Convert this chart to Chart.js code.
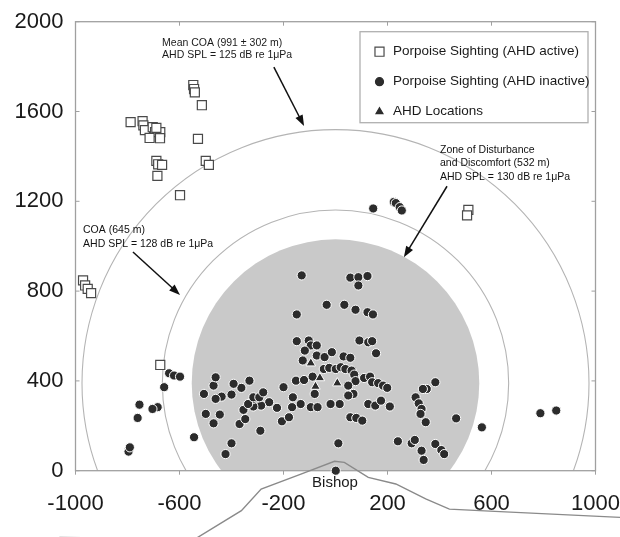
<!DOCTYPE html>
<html><head><meta charset="utf-8">
<script src="https://cdn.jsdelivr.net/npm/chart.js@4.4.0/dist/chart.umd.min.js"></script>
<style>html,body{margin:0;padding:0;background:#fff;}canvas{display:block;}</style>
</head><body>
<canvas id="c" width="620" height="537"></canvas>
<script>
// ---- data ----
const xTickValues = [-1000, -600, -200, 200, 600, 1000];
const yTickValues = [0, 400, 800, 1200, 1600, 2000];

const activeX = [-788,-742,-739,-733,-703,-694,-715,-674,-675,-689,-547,-544,-541,-514,-529,-689,-682,-667,-685,-598,-499,-487,511,506,-971,-963,-953,-940,-674];
const activeY = [1553,1557,1538,1517,1530,1508,1482,1508,1481,1527,1718,1700,1685,1628,1478,1380,1365,1362,1313,1227,1380,1362,1162,1137,848,825,810,791,471];

const inactiveX = [145,224,232,247,255,
 -130,57,88,123,88,-34,34,77,123,144,-149,
 -149,-103,-95,-72,-118,-126,-72,-42,-14,31,57,92,126,141,156,
 -152,-121,-88,-80,-95,-69,-164,-134,-167,-200,-225,-206,-179,
 -255,-286,-316,-316,-331,-362,-392,-400,-438,-461,-469,-461,-506,-499,-469,-445,
 -369,-347,-354,-336,-316,-293,-278,-289,-400,-423,-544,
 -640,-621,-598,-659,-684,-704,-754,-761,-796,-791,
 -45,-24,1,20,38,62,72,77,110,133,141,164,183,199,49,69,49,16,-19,126,153,175,209,57,80,103,11,1,
 240,293,305,331,339,384,407,418,308,320,331,327,347,351,336,384,464,563,788,849];
const inactiveY = [1168,1197,1192,1174,1159,
 870,860,862,867,825,739,739,717,706,696,696,
 577,580,558,558,535,491,513,506,528,509,503,580,572,577,523,
 401,404,419,342,283,283,327,297,283,372,280,220,238,
 305,290,286,320,401,369,387,339,330,320,379,416,342,253,211,250,
 208,230,271,297,327,327,349,178,122,74,149,
 434,424,419,372,283,275,294,235,85,104,
 453,458,453,461,453,446,428,399,413,419,394,390,379,369,379,342,335,297,297,297,290,312,286,238,235,223,122,0,
 131,122,137,89,48,119,92,74,327,300,275,253,216,364,364,394,233,193,256,268];

const ahdX = [-95,-60,-77,7];
const ahdY = [479,413,375,390];

// coastline below the axis (Bishop)
const coastX = [-1062,-758,-537,-362,-286,-133,-4,34,126,232,347,438,613,1097];
const coastY = [-297,-302,-302,-178,-82,-15,42,37,-30,-59,-126,-171,-181,-208];

// zones centred on the AHD array
const zoneCenter = [0, 390];
const discRadius = 553;      // zone of disturbance and discomfort
const ringRadii = [666, 975]; // COA, mean COA

const seriesLabels = ['Porpoise Sighting (AHD active)','Porpoise Sighting (AHD inactive)','AHD Locations'];

const annotations = [
  {lines:['Mean COA (991 \u00b1 302 m)','AHD SPL = 125 dB re 1\u03bcPa'], x:-667, y:[1904,1852], arrow:[-237,1798,-121,1535]},
  {lines:['Zone of Disturbance','and Discomfort (532 m)','AHD SPL = 130 dB re 1\u03bcPa'], x:402, y:[1428,1370,1307], arrow:[429,1267,263,951]},
  {lines:['COA (645 m)','AHD SPL = 128 dB re 1\u03bcPa'], x:-971, y:[1071,1009], arrow:[-779,974,-598,783]}
];
const placeLabel = {text:'Bishop', x:-2, y:-55};

const pts = (xs, ys) => xs.map((v,i)=>({x:v, y:ys[i]}));

const zonesPlugin = {
  id:'zones',
  beforeDatasetsDraw(chart){
    const {ctx, chartArea:a, scales:{x,y}} = chart;
    ctx.save();
    ctx.beginPath(); ctx.rect(a.left,a.top,a.right-a.left,a.bottom-a.top); ctx.clip();
    const cx = x.getPixelForValue(zoneCenter[0]), cy = y.getPixelForValue(zoneCenter[1]);
    const k = (x.getPixelForValue(1000)-x.getPixelForValue(0))/1000;
    ctx.fillStyle = '#c9c9c9';
    ctx.beginPath(); ctx.arc(cx,cy,discRadius*k,0,Math.PI*2); ctx.fill();
    ctx.strokeStyle = '#b4b4b4'; ctx.lineWidth = 1.1;
    ringRadii.forEach(r=>{ctx.beginPath(); ctx.arc(cx,cy,r*k,0,Math.PI*2); ctx.stroke();});
    ctx.restore();
    // frame
    ctx.save();
    ctx.strokeStyle = '#a0a0a0'; ctx.lineWidth = 1.3;
    ctx.strokeRect(a.left,a.top,a.right-a.left,a.bottom-a.top);
    ctx.lineWidth = 1;
    xTickValues.forEach(v=>{const px=x.getPixelForValue(v);
      ctx.beginPath(); ctx.moveTo(px,a.top); ctx.lineTo(px,a.top+4); ctx.stroke();
      ctx.beginPath(); ctx.moveTo(px,a.bottom); ctx.lineTo(px,a.bottom+4); ctx.stroke();});
    yTickValues.forEach(v=>{const py=y.getPixelForValue(v);
      ctx.beginPath(); ctx.moveTo(a.left,py); ctx.lineTo(a.left+4,py); ctx.stroke();
      ctx.beginPath(); ctx.moveTo(a.right,py); ctx.lineTo(a.right-4,py); ctx.stroke();});
    ctx.restore();
  },
  afterDatasetsDraw(chart){
    const {ctx, chartArea:a, scales:{x,y}} = chart;
    ctx.save();
    ctx.fillStyle = '#1a1a1a';
    ctx.font = '10.5px "Liberation Sans", Arial, sans-serif';
    ctx.textBaseline = 'middle'; ctx.textAlign = 'left';
    annotations.forEach(an=>{
      an.lines.forEach((t,i)=>ctx.fillText(t, x.getPixelForValue(an.x), y.getPixelForValue(an.y[i])));
      const x1=x.getPixelForValue(an.arrow[0]), y1=y.getPixelForValue(an.arrow[1]);
      const x2=x.getPixelForValue(an.arrow[2]), y2=y.getPixelForValue(an.arrow[3]);
      const ang=Math.atan2(y2-y1,x2-x1), L=11, W=4;
      ctx.strokeStyle='#111'; ctx.lineWidth=1.5;
      ctx.beginPath(); ctx.moveTo(x1,y1); ctx.lineTo(x2-Math.cos(ang)*L*0.8,y2-Math.sin(ang)*L*0.8); ctx.stroke();
      ctx.beginPath(); ctx.moveTo(x2,y2);
      ctx.lineTo(x2-Math.cos(ang)*L-Math.sin(ang)*W, y2-Math.sin(ang)*L+Math.cos(ang)*W);
      ctx.lineTo(x2-Math.cos(ang)*L+Math.sin(ang)*W, y2-Math.sin(ang)*L-Math.cos(ang)*W);
      ctx.closePath(); ctx.fillStyle='#111'; ctx.fill();
    });
    ctx.fillStyle = '#1a1a1a';
    ctx.font = '15px "Liberation Sans", Arial, sans-serif';
    ctx.textAlign = 'center';
    ctx.fillText(placeLabel.text, x.getPixelForValue(placeLabel.x), y.getPixelForValue(placeLabel.y));
    // legend
    const lw=228, lh=91, lx=a.right-7.5-lw, ly=a.top+10;
    ctx.fillStyle='#fff'; ctx.fillRect(lx,ly,lw,lh);
    ctx.strokeStyle='#b0b0b0'; ctx.lineWidth=1.3; ctx.strokeRect(lx,ly,lw,lh);
    ctx.font = '13.5px "Liberation Sans", Arial, sans-serif';
    ctx.textAlign='left';
    chart.data.datasets.slice(0,3).forEach((ds,i)=>{
      const ry = ly+20+i*30;
      ctx.fillStyle = ds.backgroundColor; ctx.strokeStyle = ds.legendBorder; ctx.lineWidth = 1.2;
      Chart.helpers.drawPoint(ctx,{pointStyle:ds.pointStyle, radius:ds.legendRadius, rotation:0, borderWidth:1.2},lx+19.5,ry);
      ctx.fillStyle='#1a1a1a';
      ctx.fillText(ds.label, lx+33, ry);
    });
    ctx.restore();
  }
};

const tickFont = {family:'"Liberation Sans", Arial, sans-serif', size:22};

new Chart(document.getElementById('c'), {
  type:'scatter',
  data:{datasets:[
    {label:seriesLabels[0], data:pts(activeX,activeY), pointStyle:'rect', pointRadius:6.4, backgroundColor:'#ffffff', borderColor:'#4a4a4a', legendBorder:'#4a4a4a', borderWidth:1.2, legendRadius:6.4, clip:false, order:3},
    {label:seriesLabels[1], data:pts(inactiveX,inactiveY), pointStyle:'circle', pointRadius:4.6, backgroundColor:'#2c2c2c', borderColor:'#ffffff', legendBorder:'#2c2c2c', borderWidth:1, legendRadius:4, clip:false, order:2},
    {label:seriesLabels[2], data:pts(ahdX,ahdY), pointStyle:'triangle', pointRadius:5.5, backgroundColor:'#2c2c2c', borderColor:'#ffffff', legendBorder:'#2c2c2c', borderWidth:1, legendRadius:4, clip:false, order:1},
    {label:'coast', type:'line', data:pts(coastX,coastY), showLine:true, pointRadius:0, borderColor:'#8a8a8a', borderWidth:1.4, fill:false, clip:false, tension:0, order:4}
  ]},
  options:{
    responsive:false, animation:false, devicePixelRatio:1,
    layout:{padding:{left:0,right:24.5,top:21.7,bottom:0}},
    plugins:{legend:{display:false}, tooltip:{enabled:false}},
    scales:{
      x:{type:'linear', min:-1000, max:1000,
        afterBuildTicks(s){s.ticks = xTickValues.map(v=>({value:v}));},
        afterFit(s){s.height = 66.3; s.paddingLeft = 0; s.paddingRight = 0;},
        grid:{display:false, drawTicks:false}, border:{display:false},
        ticks:{padding:20, color:'#1a1a1a', font:tickFont, maxRotation:0, autoSkip:false, callback:v=>String(v)}},
      y:{type:'linear', min:0, max:2000,
        afterBuildTicks(s){s.ticks = yTickValues.map(v=>({value:v}));},
        afterFit(s){s.width = 75.5; s.paddingTop = 0; s.paddingBottom = 0;},
        grid:{display:false, drawTicks:false}, border:{display:false},
        ticks:{padding:12, color:'#1a1a1a', font:tickFont, callback:v=>String(v)}}
    }
  },
  plugins:[zonesPlugin]
});
</script>
</body></html>
